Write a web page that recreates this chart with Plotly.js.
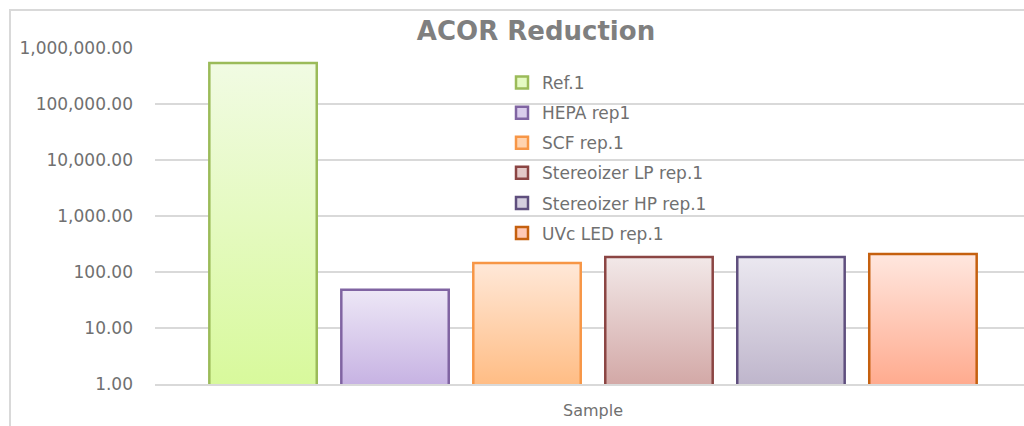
<!DOCTYPE html>
<html>
<head>
<meta charset="utf-8">
<script src="https://cdn.plot.ly/plotly-3.0.1.min.js"></script>
<style>
html,body{margin:0;padding:0;width:1024px;height:426px;overflow:hidden;background:#fff;}
#wrap{position:relative;width:1024px;height:426px;overflow:hidden;}
#chart{position:absolute;left:0;top:0;width:1040px;height:426px;}
#frame{position:absolute;left:9px;top:9px;width:1100px;height:500px;border-left:2px solid #d9d9d9;border-top:2px solid #d9d9d9;pointer-events:none;}
</style>
</head>
<body>
<div id="wrap"><div id="chart"></div><div id="frame"></div></div>
<script>
// ---- data ----
const categories = ['Sample'];
const seriesNames = ['Ref.1', 'HEPA rep1', 'SCF rep.1', 'Stereoizer LP rep.1', 'Stereoizer HP rep.1', 'UVc LED rep.1'];
const seriesValues = [540000, 48, 145, 185, 185, 210];
const yTickValues = [1, 10, 100, 1000, 10000, 100000, 1000000];

// ---- styles ----
const fillTop    = ['#f1fbe3', '#ede7f6', '#ffe8d8', '#f2e8e8', '#ebe8f0', '#ffe7df'];
const fillBottom = ['#d8f99c', '#c7b3e3', '#ffbd85', '#d3a9a7', '#bfb6cc', '#ffab8f'];
const fillMid    = ['#e5fac3', '#dacdec', '#ffd3af', '#e3c9c8', '#d5cfdf', '#ffc9b7'];
const lineColors = ['#9bbb59', '#8064a2', '#f79646', '#8b4543', '#5f4f7e', '#c5600f'];

const traces = seriesNames.map((name, i) => ({
  type: 'bar',
  name: name,
  x: categories,
  y: [seriesValues[i]],
  legendgroup: 'g' + i,
  marker: { color: fillMid[i], line: { color: lineColors[i], width: 2.5 } },
  hoverinfo: 'name+y'
}));

const PLOT_H = 336;
const layout = {
  width: 1040,
  height: 426,
  margin: { l: 155, r: 9, t: 48, b: 42 },
  paper_bgcolor: 'rgba(0,0,0,0)',
  plot_bgcolor: 'rgba(0,0,0,0)',
  font: { family: 'DejaVu Sans, sans-serif', color: '#707070' },
  title: {
    text: '<b>ACOR Reduction</b>',
    font: { family: 'DejaVu Sans, sans-serif', size: 26, color: '#7f7f7f' },
    x: 536 / 1040, xref: 'container', xanchor: 'center',
    y: 1 - 31 / 426, yref: 'container', yanchor: 'middle'
  },
  barmode: 'group',
  bargap: 0.096,
  bargroupgap: 0.186,
  xaxis: {
    type: 'category',
    showgrid: false,
    showline: true, linecolor: '#d9d9d9', linewidth: 2,
    ticks: '',
    tickfont: { size: 16, color: '#707070' },
    ticklabelstandoff: 11,
    zeroline: false
  },
  yaxis: {
    type: 'log',
    range: [0, 6],
    tickvals: yTickValues,
    tickformat: ',.2f',
    tickfont: { size: 17, color: '#707070' },
    showgrid: true, gridcolor: '#d9d9d9', gridwidth: 2,
    showline: false, zeroline: false,
    ticks: '',
    ticklabelstandoff: 21
  },
  legend: {
    x: (502 - 155) / 876, xref: 'paper', xanchor: 'left',
    y: 1 - (65 - 48) / PLOT_H, yanchor: 'top',
    bgcolor: 'rgba(255,255,255,0)',
    font: { size: 17, color: '#707070' },
    traceorder: 'grouped',
    tracegroupgap: 5
  },
  showlegend: true
};

Plotly.newPlot('chart', traces, layout, { displayModeBar: false, staticPlot: true }).then(gd => {
  const svg = gd.querySelector('svg.main-svg');
  const ns = 'http://www.w3.org/2000/svg';
  let defs = svg.querySelector('defs');
  if (!defs) { defs = document.createElementNS(ns, 'defs'); svg.insertBefore(defs, svg.firstChild); }
  const traceGroups = svg.querySelectorAll('.barlayer .trace');
  traceGroups.forEach((tg, i) => {
    tg.querySelectorAll('path').forEach((p, j) => {
      const nums = (p.getAttribute('d') || '').match(/-?\d+(\.\d+)?(e-?\d+)?/g) || [];
      // path: M x0,y0 V y1 H x1 V y0 Z  -> take top from vertical coords
      const ys = [parseFloat(nums[1]), parseFloat(nums[2])].filter(v => isFinite(v));
      const top = Math.max(0, Math.min.apply(null, ys));
      const lg = document.createElementNS(ns, 'linearGradient');
      const id = 'bargrad' + i + '_' + j;
      lg.setAttribute('id', id);
      lg.setAttribute('gradientUnits', 'userSpaceOnUse');
      lg.setAttribute('x1', '0'); lg.setAttribute('y1', String(top));
      lg.setAttribute('x2', '0'); lg.setAttribute('y2', String(PLOT_H));
      const s1 = document.createElementNS(ns, 'stop');
      s1.setAttribute('offset', '0'); s1.setAttribute('stop-color', fillTop[i]);
      const s2 = document.createElementNS(ns, 'stop');
      s2.setAttribute('offset', '1'); s2.setAttribute('stop-color', fillBottom[i]);
      lg.appendChild(s1); lg.appendChild(s2);
      defs.appendChild(lg);
      p.style.fill = 'url(#' + id + ')';
    });
  });
});
</script>
</body>
</html>
